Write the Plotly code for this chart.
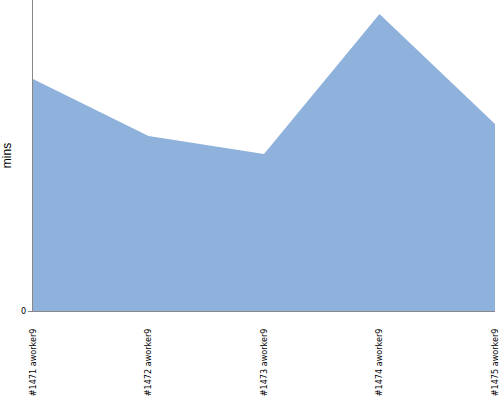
import plotly.graph_objects as go

builds = ["#1471 aworker9", "#1472 aworker9", "#1473 aworker9", "#1474 aworker9", "#1475 aworker9"]
mins = [74.6, 56.3, 50.5, 95.5, 60.1]

fig = go.Figure()
fig.add_trace(
    go.Scatter(
        x=builds,
        y=mins,
        mode="lines",
        fill="tozeroy",
        fillcolor="#8fb2dc",
        line={"width": 0, "color": "#8fb2dc"},
        showlegend=False,
        hoverinfo="skip",
    )
)
fig.update_layout(
    width=500,
    height=400,
    margin={"l": 33, "r": 5, "t": 0, "b": 89, "pad": 0},
    plot_bgcolor="white",
    paper_bgcolor="white",
    font={"family": "Liberation Sans Narrow, DejaVu Sans Condensed, sans-serif", "size": 9, "color": "black"},
)
fig.update_xaxes(
    showgrid=False,
    zeroline=False,
    showline=True,
    linecolor="#888888",
    linewidth=1,
    tickangle=-90,
    # invisible ticks just to push the labels down like the original
    ticks="outside",
    ticklen=13,
    tickcolor="rgba(0,0,0,0)",
    range=[0, 4],
    automargin=False,
    tickfont={"size": 9},
)
fig.update_yaxes(
    showgrid=False,
    zeroline=False,
    showline=True,
    linecolor="#888888",
    linewidth=1,
    range=[0, 100],
    tickvals=[0],
    ticktext=["0"],
    ticks="outside",
    ticklen=4,
    tickcolor="#888888",
    automargin=False,
    title={"text": "mins", "font": {"family": "Liberation Sans, Arial, sans-serif", "size": 12}, "standoff": 8},
)

# drop the page's default body margin so the chart sits at the window corner
fig.write_html(
    "out.html",
    config={"displayModeBar": False},
    post_script="document.body.style.margin='0';",
)
